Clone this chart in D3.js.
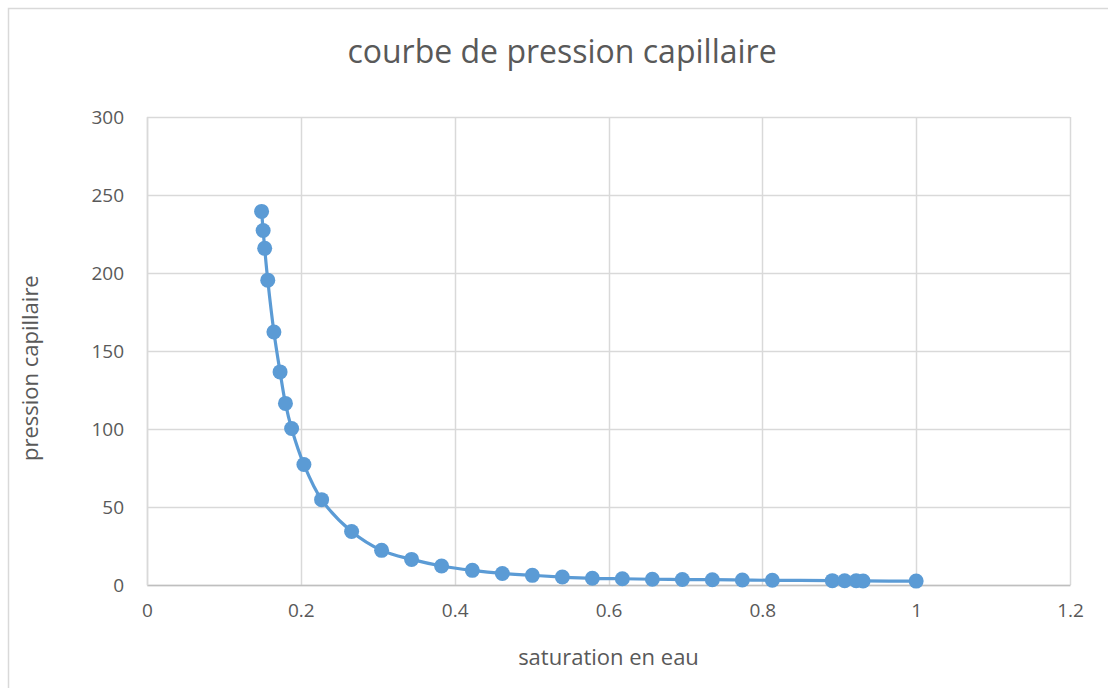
<!DOCTYPE html>
<html>
<head>
<meta charset="utf-8">
<script src="https://cdn.jsdelivr.net/npm/d3@7"></script>
<style>
  body { margin: 0; background: #fff; }
  text { font-family: 'Open Sans', 'Noto Sans', sans-serif; fill: #595959; }
</style>
</head>
<body>
<div id="chart"></div>
<script>
// water saturation (x) and capillary pressure (y)
const saturation = [0.149, 0.151, 0.153, 0.157, 0.165, 0.173, 0.180, 0.188, 0.204, 0.227,
  0.266, 0.305, 0.344, 0.383, 0.423, 0.462, 0.501, 0.540, 0.579, 0.618,
  0.657, 0.696, 0.735, 0.774, 0.813, 0.891, 0.907, 0.922, 0.931, 1.0];
const pressure = [239.5, 227.2, 215.8, 195.4, 162.2, 136.6, 116.4, 100.3, 77.2, 54.7,
  34.3, 22.2, 16.4, 12.2, 9.4, 7.4, 6.2, 5.1, 4.3, 4.0,
  3.7, 3.5, 3.4, 3.2, 3.0, 2.8, 2.7, 2.7, 2.6, 2.5];
const xTicks = [0, 0.2, 0.4, 0.6, 0.8, 1, 1.2];
const yTicks = [0, 50, 100, 150, 200, 250, 300];

const chartTitle = 'courbe de pression capillaire';
const xTitle = 'saturation en eau';
const yTitle = 'pression capillaire';

const width = 1108;
const height = 688;
const margin = { top: 117, right: 38, bottom: 103, left: 147 };
const plotW = width - margin.left - margin.right;
const plotH = height - margin.top - margin.bottom;

const data = saturation.map((s, i) => ({ x: s, y: pressure[i] }));

const xScale = d3.scaleLinear().domain([0, 1.2]).range([0, plotW]);
const yScale = d3.scaleLinear().domain([0, 300]).range([plotH, 0]);

const svg = d3.select('#chart').append('svg')
    .attr('width', width)
    .attr('height', height);

// outer chart border
svg.append('rect')
    .attr('x', 8.5)
    .attr('y', 8.5)
    .attr('width', width + 20)
    .attr('height', height + 20)
    .attr('fill', '#fff')
    .attr('stroke', '#d9d9d9')
    .attr('stroke-width', 1.5);

const g = svg.append('g')
    .attr('transform', `translate(${margin.left}, ${margin.top})`);

// gridlines
g.append('g')
    .attr('class', 'grid-y')
  .selectAll('line')
    .data(yTicks)
  .enter().append('line')
    .attr('x1', 0)
    .attr('x2', plotW)
    .attr('y1', d => Math.round(yScale(d)) + 0.5)
    .attr('y2', d => Math.round(yScale(d)) + 0.5)
    .attr('stroke', '#d9d9d9')
    .attr('stroke-width', 1.5);

g.append('g')
    .attr('class', 'grid-x')
  .selectAll('line')
    .data(xTicks)
  .enter().append('line')
    .attr('x1', d => Math.round(xScale(d)) + 0.5)
    .attr('x2', d => Math.round(xScale(d)) + 0.5)
    .attr('y1', 0)
    .attr('y2', plotH)
    .attr('stroke', '#d9d9d9')
    .attr('stroke-width', 1.5);

// axes (labels only, Excel style)
const xAxis = d3.axisBottom(xScale).tickValues(xTicks).tickSize(0).tickPadding(19)
    .tickFormat(d3.format('~g'));
const yAxis = d3.axisLeft(yScale).tickValues(yTicks).tickSize(0).tickPadding(23);

g.append('g')
    .attr('class', 'x axis')
    .attr('transform', `translate(0, ${plotH})`)
    .call(xAxis)
    .call(s => s.select('.domain').attr('stroke', '#bfbfbf').attr('stroke-width', 1.5))
  .selectAll('text')
    .attr('font-size', '19px')
    .attr('fill', '#595959');

g.append('g')
    .attr('class', 'y axis')
    .call(yAxis)
    .call(s => s.select('.domain').attr('stroke', '#d9d9d9').attr('stroke-width', 1.5))
  .selectAll('text')
    .attr('font-size', '19px')
    .attr('fill', '#595959');

// smoothed series line
const line = d3.line()
    .x(d => xScale(d.x))
    .y(d => yScale(d.y))
    .curve(d3.curveCatmullRom.alpha(0.5));

g.append('path')
    .datum(data)
    .attr('fill', 'none')
    .attr('stroke', '#5b9bd5')
    .attr('stroke-width', 3.2)
    .attr('stroke-linejoin', 'round')
    .attr('d', line);

g.append('g')
    .attr('class', 'markers')
  .selectAll('circle')
    .data(data)
  .enter().append('circle')
    .attr('cx', d => xScale(d.x))
    .attr('cy', d => yScale(d.y))
    .attr('r', 7.5)
    .attr('fill', '#5b9bd5');

// titles
svg.append('text')
    .attr('x', 562)
    .attr('y', 52)
    .attr('dy', '0.35em')
    .attr('text-anchor', 'middle')
    .attr('font-size', '32px')
    .text(chartTitle);

svg.append('text')
    .attr('x', margin.left + xScale(0.6))
    .attr('y', 657)
    .attr('dy', '0.35em')
    .attr('text-anchor', 'middle')
    .attr('font-size', '22px')
    .text(xTitle);

svg.append('text')
    .attr('transform', `translate(30, ${margin.top + yScale(139)}) rotate(-90)`)
    .attr('dy', '0.35em')
    .attr('text-anchor', 'middle')
    .attr('font-size', '22px')
    .text(yTitle);
</script>
</body>
</html>
